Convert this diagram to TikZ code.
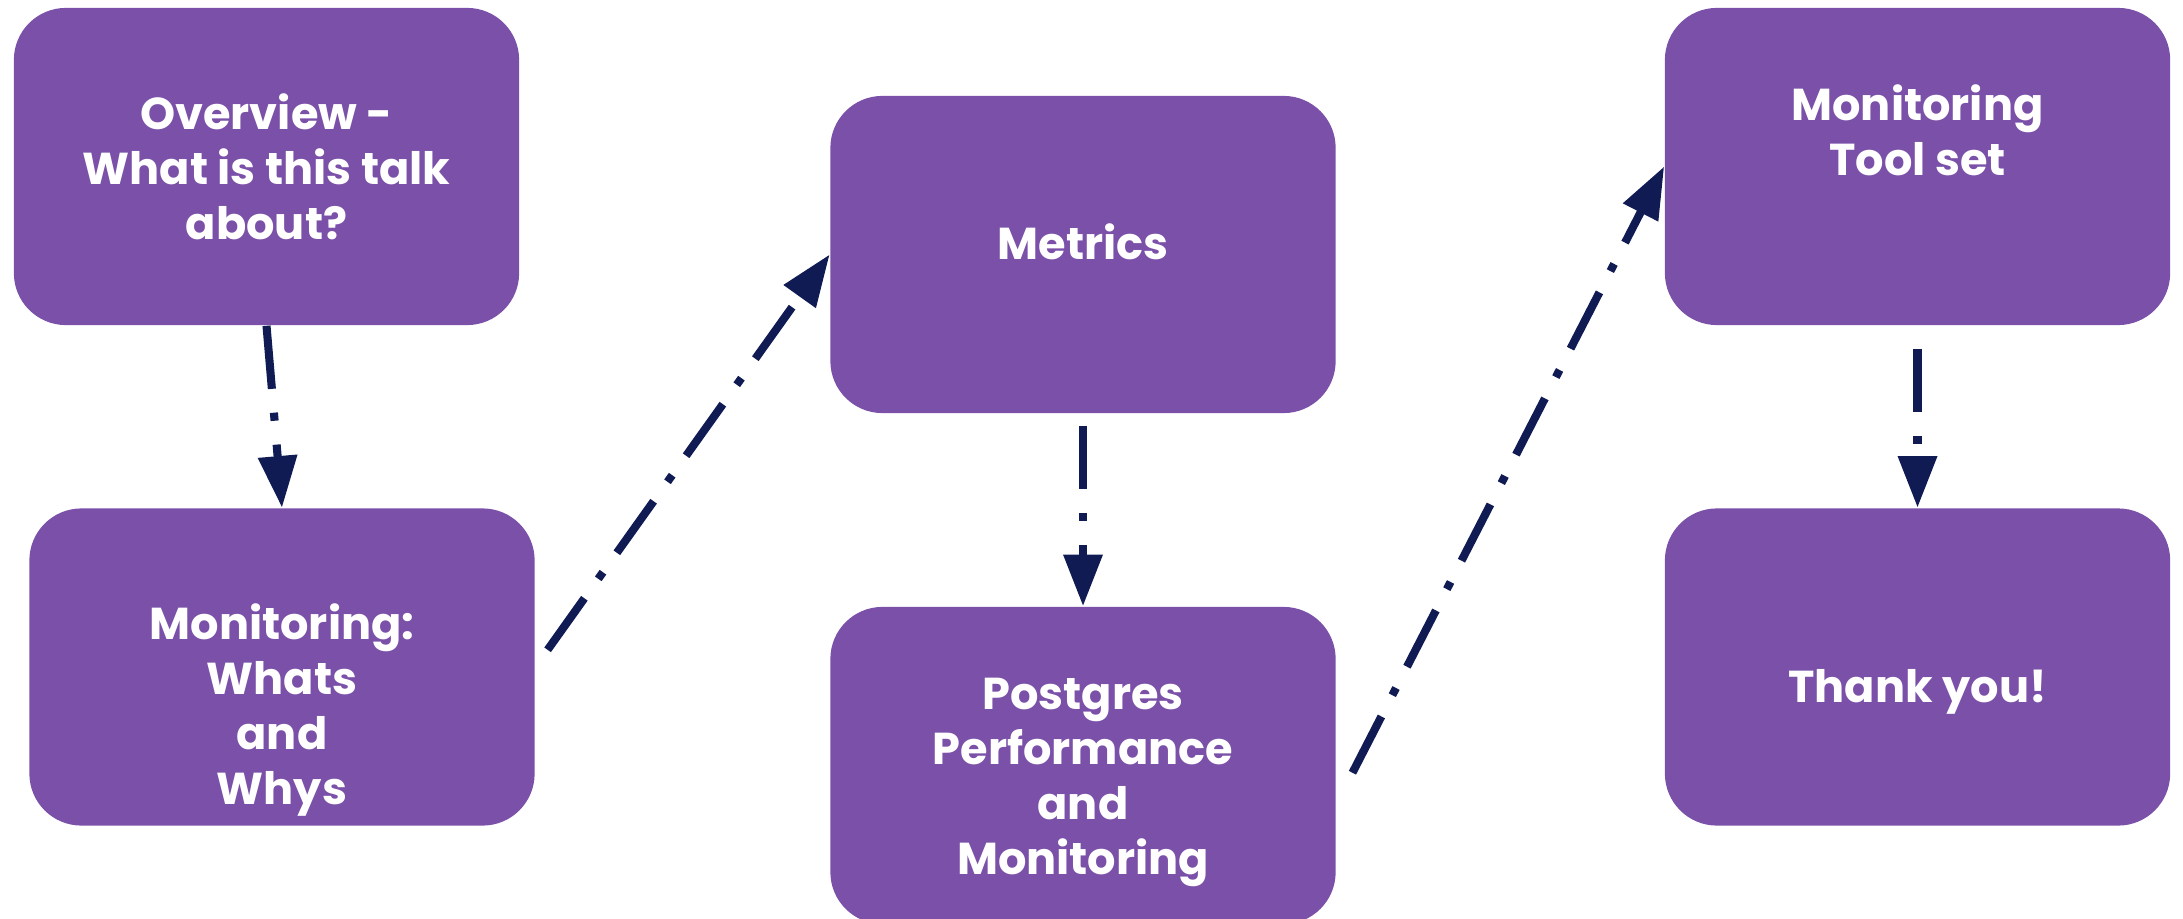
\documentclass[tikz,border=0pt]{standalone}
\usepackage{fontspec}
\setmainfont{Poppins}
\usepackage{xcolor}
\usepackage{tikz}
\usetikzlibrary{positioning,arrows.meta}

\definecolor{boxpurple}{RGB}{122,80,168}
\definecolor{arrownavy}{RGB}{16,27,84}

\tikzset{
	topic/.style={fill=boxpurple, rounded corners=0.52cm, minimum width=5.05cm, minimum height=3.17cm, inner sep=0pt},
	topictext/.style={text=white, align=center, font=\bfseries\fontsize{12.7}{15.6}\selectfont},
	flow/.style={draw=arrownavy, line width=2.3pt, dash pattern=on 18pt off 6.8pt on 2.3pt off 6.8pt, -{Triangle[length=14.7pt,width=10.7pt]}}
}

\begin{document}
\begin{tikzpicture}[x=0.01cm, y=-0.01cm]
	\useasboundingbox (0,0) rectangle (2183,919);
	% topic boxes
	\node[topic] (ov) at (266.5,166.5) {};
	\node[topic] (mon) at (282,667) {};
	\node[topic] (met) at (1083,254.5) {};
	\node[topic] (pg) at (1083,765.5) {};
	\node[topic] (tool) at (1917.5,166.5) {};
	\node[topic] (thx) at (1917.5,667) {};
	% texts
	\node[topictext] (ovt) at (ov.center) {Overview -\\What is this talk\\about?};
	\node[topictext] (mont) at ([yshift=-0.43cm]mon.center) {Monitoring:\\Whats\\and\\Whys};
	\node[topictext] (mett) at ([yshift=0.13cm]met.center) {Metrics};
	\node[topictext] (pgt) at ([yshift=-0.17cm]pg.center) {Postgres\\Performance\\and\\Monitoring};
	\node[topictext] (toolt) at ([yshift=0.36cm]tool.center) {Monitoring\\Tool set};
	\node[topictext] (thxt) at ([yshift=-0.25cm]thx.center) {Thank you!};
	% arrows
	\draw[flow] (ov.south) -- (mon.north);
	\draw[flow, shorten <=6pt] (mon.east) -- (met.west);
	\draw[flow, shorten <=3.4pt] (met.south) -- (pg.north);
	\draw[flow, shorten <=10pt] ([yshift=-0.385cm]pg.east) -- (tool.west);
	\draw[flow, shorten <=6.5pt] (tool.south) -- (thx.north);
\end{tikzpicture}
\end{document}
